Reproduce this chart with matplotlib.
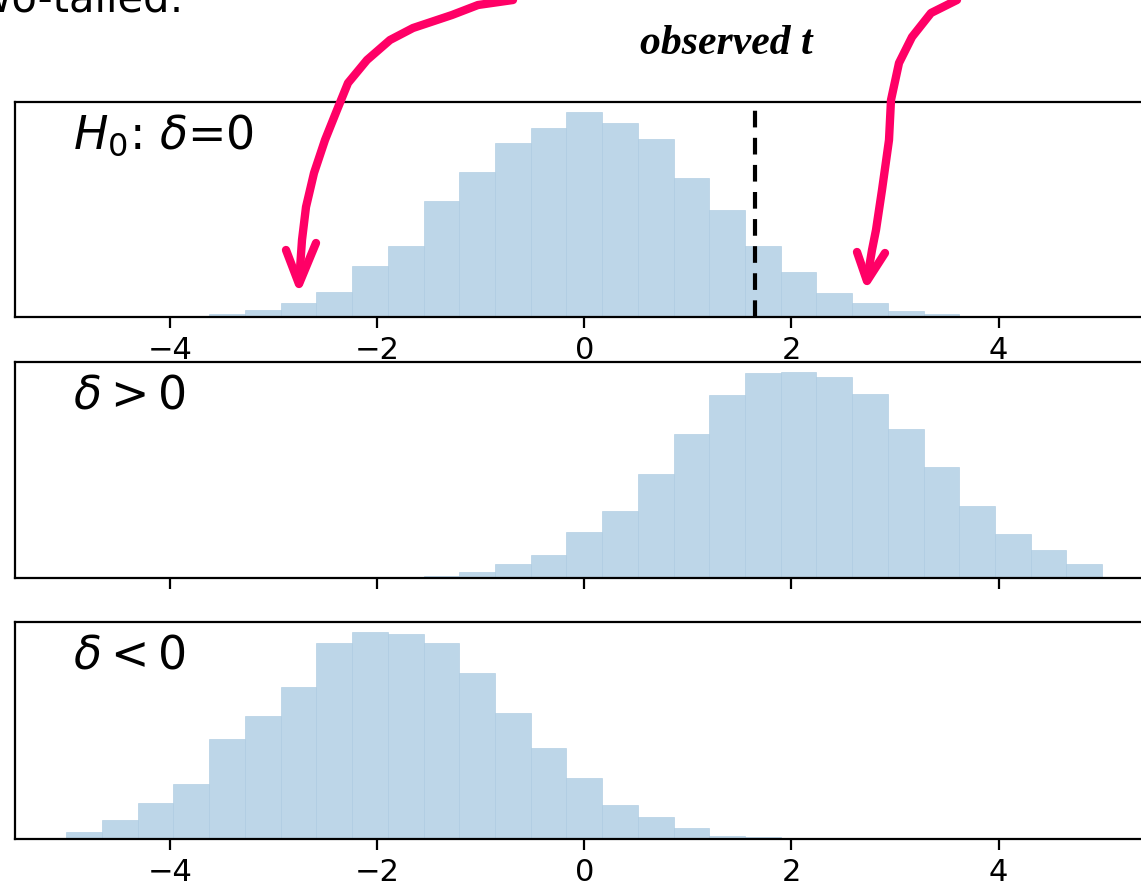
import matplotlib.pyplot as plt
import numpy as np
from matplotlib.lines import Line2D

# shared bin edges: 29 bins from -5 to 5
bin_lo, bin_hi, n_bins = -5, 5, 29
edges = np.linspace(bin_lo, bin_hi, n_bins + 1)

# bar heights (relative counts), one per bin
h_null = [0, 0, 0, 0, 3, 7, 14, 25, 51, 71, 117, 146, 175, 190, 206,
          195, 179, 140, 108, 71, 45, 24, 14, 6, 3, 0, 0, 0, 0]
h_pos = [0, 0, 0, 0, 0, 0, 0, 0, 0, 0, 2, 6, 14, 23, 46,
         67, 104, 144, 183, 205, 206, 201, 184, 149, 111, 72, 44, 28, 14]
h_neg = [7, 19, 36, 55, 99, 122, 151, 194, 205, 203, 194, 165, 125, 90, 61,
         34, 22, 11, 3, 2, 0, 0, 0, 0, 0, 0, 0, 0, 0]

panels = [h_null, h_pos, h_neg]
labels = ['$H_0$: $\\delta$=0', '$\\delta > 0$', '$\\delta < 0$']
show_ticklabels = [True, False, True]
observed_t = 1.65
xticks = [-4, -2, 0, 2, 4]

W, H = 1141, 891
fig = plt.figure(figsize=(W / 100, H / 100), dpi=100)

# axes boxes in pixels (left, top, right, bottom); right side runs off the crop
boxes = [(14.5, 102, 1154, 317), (14.5, 362, 1154, 578), (14.5, 622, 1154, 839)]
bar_color = '#bdd6e8'

for heights, lab, show, (l, t, r, b) in zip(panels, labels, show_ticklabels, boxes):
    ax = fig.add_axes([l / W, 1 - b / H, (r - l) / W, (b - t) / H])
    ax.hist(edges[:-1], bins=edges, weights=heights, color=bar_color,
            edgecolor='#a9c9e0', linewidth=0.4)
    ax.set_xlim(-5.5, 5.5)
    ax.set_xticks(xticks)
    ax.set_yticks([])
    ax.tick_params(axis='x', labelsize=22, length=8, width=1.6, pad=6,
                   labelbottom=show)
    for s in ax.spines.values():
        s.set_linewidth(1.6)
    ax.text(0.051, 0.785, lab, transform=ax.transAxes, fontsize=33,
            va='baseline', ha='left')
    if heights is h_null:
        ax.axvline(observed_t, color='black', ls='--', lw=3, dashes=(4, 2.5))


def px(pts):
    return [x / W for x, y in pts], [1 - y / H for x, y in pts]


pink = '#ff0066'
left_arrow = [(513, 0), (478, 5), (452, 15), (413, 28), (390, 40), (367, 60),
              (348, 83), (337, 110), (325, 140), (314, 173), (306, 207),
              (302, 240), (299, 283)]
left_head = [(286, 250), (299, 284), (316, 243)]
right_arrow = [(957, 0), (931, 13), (912, 37), (899, 63), (891, 100),
               (889, 140), (882, 190), (876, 230), (872, 250), (867, 280)]
right_head = [(857, 252), (867, 281), (885, 253)]
for pts in [left_arrow, left_head, right_arrow, right_head]:
    xs, ys = px(pts)
    fig.add_artist(Line2D(xs, ys, color=pink, lw=6, solid_capstyle='round',
                          solid_joinstyle='round'))

# slide text, cut at the top and left
fig.text(184 / W, 1 - 12 / H, 'Two-tailed:', fontsize=30, ha='right',
         va='baseline')
fig.text(640 / W, 1 - 54 / H, 'observed t', fontsize=30, fontweight='bold',
         fontstyle='italic', family='Liberation Serif', ha='left', va='baseline')

fig.savefig('out.png', dpi=100)
